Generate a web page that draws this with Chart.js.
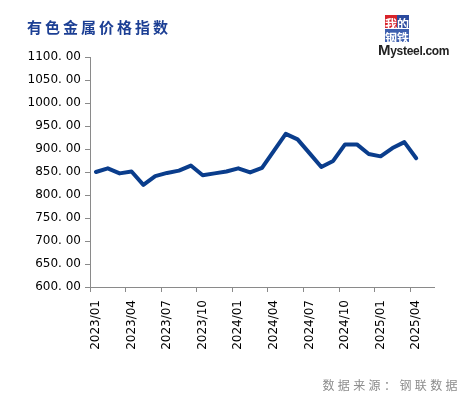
<!DOCTYPE html>
<html>
<head>
<meta charset="utf-8">
<script src="https://cdn.jsdelivr.net/npm/chart.js@4"></script>
<style>
  body { margin: 0; background: #fff; }
  #wrap { position: relative; width: 465px; height: 397px; }
  #chart { position: absolute; left: 0; top: 0; }
  #title {
    position: absolute; left: 27px; top: 16px;
    font: bold 15px "Noto Sans CJK SC"; letter-spacing: 3px; color: #1c3f94;
  }
  #source {
    position: absolute; right: 4px; top: 376px;
    font: 12px "Noto Sans CJK SC"; letter-spacing: 3.4px; color: #8c8c8c;
  }
  #logo { position: absolute; left: 374px; top: 14px; width: 80px; }
  .box {
    position: absolute; width: 12px; height: 13px; line-height: 13px;
    font: bold 12px "Noto Sans CJK SC"; color: #fff; text-align: center;
  }
  #mys {
    position: absolute; left: 4px; top: 27px;
    font: bold 12px "Liberation Sans"; color: #222; letter-spacing: -0.3px;
  }
</style>
</head>
<body>
<div id="wrap">
  <canvas id="chart" width="465" height="397"></canvas>
  <div id="title">有色金属价格指数</div>
  <div id="logo">
    <div class="box" style="left:11px;top:1px;background:#d8232a">我</div>
    <div class="box" style="left:23px;top:1px;background:#2b4a9e">的</div>
    <div class="box" style="left:11px;top:15px;background:#3d5fae">钢</div>
    <div class="box" style="left:23px;top:15px;background:#3d5fae">铁</div>
    <div id="mys"><span style="font-size:15px">M</span>ysteel.com</div>
  </div>
  <div id="source">数据来源：钢联数据</div>
</div>
<script>
const months = [
  "2023/01", "2023/02", "2023/03", "2023/04", "2023/05", "2023/06",
  "2023/07", "2023/08", "2023/09", "2023/10", "2023/11", "2023/12",
  "2024/01", "2024/02", "2024/03", "2024/04", "2024/05", "2024/06",
  "2024/07", "2024/08", "2024/09", "2024/10", "2024/11", "2024/12",
  "2025/01", "2025/02", "2025/03", "2025/04", "2025/05"
];
const indexValues = [
  850, 858, 847, 851, 822, 841, 848, 853, 864, 843, 847, 851,
  858, 849, 859, 896, 933, 921, 891, 861, 874, 910, 910, 889,
  884, 902, 915, 880
];
const yTicks = [600, 1100, 50]; // min, max, step

const axisColor = "#8a8a8a";
const tickFont = { family: "DejaVu Sans", size: 12 };

new Chart(document.getElementById("chart"), {
  type: "line",
  data: {
    labels: months,
    datasets: [{
      data: indexValues,
      borderColor: "#0a3d8c",
      borderWidth: 4,
      borderJoinStyle: "round",
      borderCapStyle: "round",
      pointRadius: 0,
      tension: 0,
      fill: false
    }]
  },
  options: {
    responsive: false,
    animation: false,
    layout: { padding: { top: 57, right: 31, left: 0, bottom: 0 } },
    plugins: { legend: { display: false }, tooltip: { enabled: false } },
    scales: {
      x: {
        offset: true,
        grid: {
          offset: true,
          drawOnChartArea: false,
          tickLength: 5,
          color: (ctx) => (ctx.index % 3 === 0 ? axisColor : "rgba(0,0,0,0)")
        },
        border: { color: axisColor, width: 1 },
        ticks: {
          autoSkip: false,
          minRotation: 90,
          maxRotation: 90,
          padding: 8,
          color: "#000",
          font: tickFont,
          callback: (v, i) => (i % 3 === 0 ? months[i] : "")
        },
        afterFit: (s) => { s.height = 110; }
      },
      y: {
        min: yTicks[0],
        max: yTicks[1],
        grid: { drawOnChartArea: false, tickLength: 5, color: axisColor },
        border: { color: axisColor, width: 1 },
        ticks: {
          stepSize: yTicks[2],
          padding: 4,
          color: "#000",
          font: tickFont,
          callback: (v) => v.toFixed(2).replace(".", ". ")
        },
        afterFit: (s) => { s.width = 90; }
      }
    }
  }
});
</script>
</body>
</html>
